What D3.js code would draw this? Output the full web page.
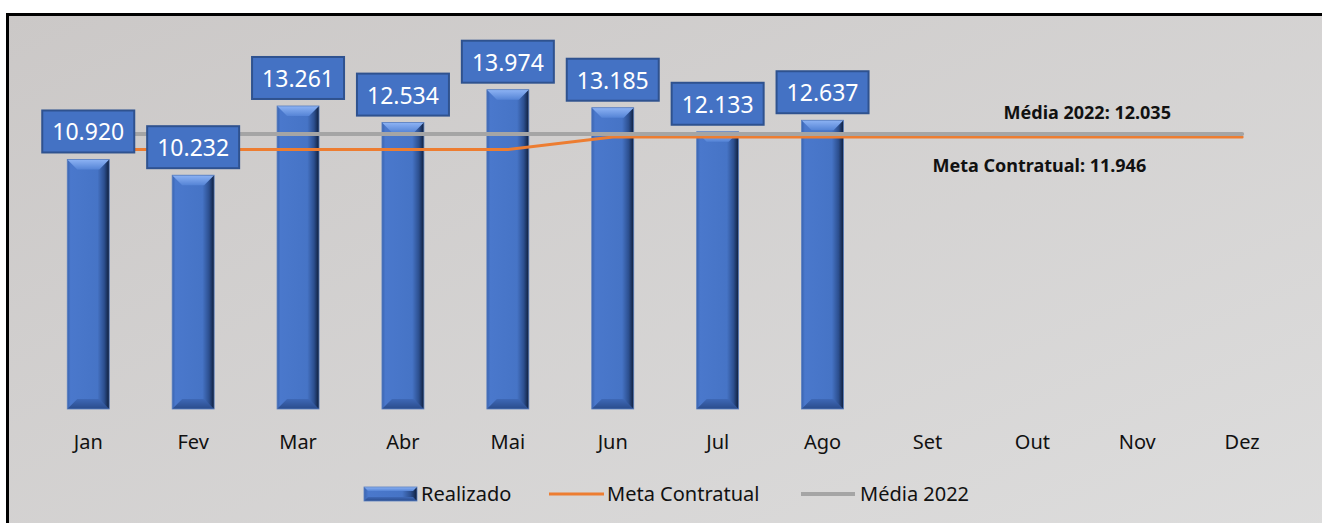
<!DOCTYPE html>
<html>
<head>
<meta charset="utf-8">
<script src="https://cdn.jsdelivr.net/npm/d3@7"></script>
<style>
  html, body { margin: 0; padding: 0; background: #fff; }
  svg { display: block; font-family: "Noto Sans", sans-serif; }
</style>
</head>
<body>
<svg id="area" width="1322" height="523"></svg>
<script>
const months = ['Jan', 'Fev', 'Mar', 'Abr', 'Mai', 'Jun', 'Jul', 'Ago', 'Set', 'Out', 'Nov', 'Dez'];
const realizado = [10920, 10232, 13261, 12534, 13974, 13185, 12133, 12637];
const metaContratual = [11360, 11360, 11360, 11360, 11360, 11900, 11900, 11900, 11900, 11900, 11900, 11900];
const media2022 = [12035, 12035, 12035, 12035, 12035, 12035, 12035, 12035, 12035, 12035, 12035, 12035];
const metaLabel = 'Meta Contratual: 11.946';
const mediaLabel = 'Média 2022: 12.035';
const legendItems = ['Realizado', 'Meta Contratual', 'Média 2022'];

const ptBR = d3.formatLocale({ decimal: ',', thousands: '.', grouping: [3], currency: ['R$', ''] });
const fmt = ptBR.format(',d');

const svg = d3.select('#area');
const defs = svg.append('defs');

// background + frame
const bg = defs.append('linearGradient').attr('id', 'bgGrad')
  .attr('x1', 0).attr('y1', 0).attr('x2', 1).attr('y2', 1);
bg.append('stop').attr('offset', 0).attr('stop-color', '#cbc8c7');
bg.append('stop').attr('offset', 1).attr('stop-color', '#dfdfdf');

svg.append('rect')
  .attr('x', 7.5).attr('y', 14.5).attr('width', 1400).attr('height', 600)
  .attr('fill', 'url(#bgGrad)')
  .attr('stroke', '#000').attr('stroke-width', 3);

// bar gradients
const sideGrad = defs.append('linearGradient').attr('id', 'barSide');
[[0, '#3a64b0'], [0.08, '#4a78cc'], [0.72, '#4674c6'], [0.88, '#2c4f8f'], [1, '#0f1e3a']]
  .forEach(([o, c]) => sideGrad.append('stop').attr('offset', o).attr('stop-color', c));
const topGrad = defs.append('linearGradient').attr('id', 'barTop')
  .attr('x1', 0).attr('y1', 0).attr('x2', 0).attr('y2', 1);
topGrad.append('stop').attr('offset', 0).attr('stop-color', '#8db3f4');
topGrad.append('stop').attr('offset', 1).attr('stop-color', '#5584d6');
const botGrad = defs.append('linearGradient').attr('id', 'barBot')
  .attr('x1', 0).attr('y1', 0).attr('x2', 0).attr('y2', 1);
botGrad.append('stop').attr('offset', 0).attr('stop-color', '#3e68b6');
botGrad.append('stop').attr('offset', 1).attr('stop-color', '#2a4c8c');

function bevelBar(g, x, y, w, h, bev) {
  g.append('rect').attr('x', x).attr('y', y).attr('width', w).attr('height', h)
    .attr('fill', 'url(#barSide)');
  g.append('polygon')
    .attr('points', [[x, y], [x + w, y], [x + w - bev, y + bev], [x + bev, y + bev]].join(' '))
    .attr('fill', 'url(#barTop)');
  g.append('polygon')
    .attr('points', [[x, y + h], [x + w, y + h], [x + w - bev, y + h - bev], [x + bev, y + h - bev]].join(' '))
    .attr('fill', 'url(#barBot)');
  g.append('rect').attr('x', x).attr('y', y).attr('width', w).attr('height', h)
    .attr('fill', 'none').attr('stroke', '#5a7fc0').attr('stroke-width', 0.8);
}

// scales
const x = d3.scaleBand().domain(months).range([35.8, 1294.6])
  .paddingInner(0.6).paddingOuter(0.3);
const y = d3.scaleLinear().domain([0, 16000]).range([409, 43.4]);
const cx = (m) => x(m) + x.bandwidth() / 2;

// bars
const bars = svg.append('g');
realizado.forEach((v, i) => {
  const g = bars.append('g');
  bevelBar(g, x(months[i]), y(v), x.bandwidth(), y(0) - y(v), 10);
});

// lines
const line = d3.line().x((d, i) => cx(months[i])).y((d) => y(d));
svg.append('path').datum(metaContratual)
  .attr('d', line).attr('fill', 'none')
  .attr('stroke', '#ed7d31').attr('stroke-width', 3).attr('stroke-linecap', 'round');
svg.append('path').datum(media2022)
  .attr('d', line).attr('fill', 'none')
  .attr('stroke', '#a5a5a5').attr('stroke-width', 4).attr('stroke-linecap', 'round');

// data labels
const boxW = 92;
const boxH = 42;
const labels = svg.append('g').selectAll('g').data(realizado).join('g')
  .attr('transform', (d, i) => `translate(${cx(months[i])},${y(d) - 7 - boxH / 2})`);
labels.append('rect')
  .attr('x', -boxW / 2).attr('y', -boxH / 2).attr('width', boxW).attr('height', boxH)
  .attr('fill', '#4472c4').attr('stroke', '#2f528f').attr('stroke-width', 2);
labels.append('text')
  .attr('text-anchor', 'middle').attr('y', 9)
  .attr('fill', '#fff').attr('font-size', 23)
  .text((d) => fmt(d));

// annotations
svg.append('text')
  .attr('x', cx('Nov') - 50).attr('y', y(media2022[11]) - 15)
  .attr('text-anchor', 'middle').attr('font-weight', 'bold').attr('font-size', 18)
  .attr('fill', '#111').text(mediaLabel);
svg.append('text')
  .attr('x', cx('Out') + 7).attr('y', y(metaContratual[11]) + 35)
  .attr('text-anchor', 'middle').attr('font-weight', 'bold').attr('font-size', 18)
  .attr('fill', '#111').text(metaLabel);

// x axis
const axis = svg.append('g').attr('transform', `translate(0,${y(0)})`)
  .call(d3.axisBottom(x).tickSize(0).tickPadding(0));
axis.select('.domain').remove();
axis.selectAll('text')
  .attr('y', 39.5).attr('dy', 0)
  .attr('font-size', 20).attr('font-family', '"Noto Sans", sans-serif')
  .attr('fill', '#111');

// legend
const legend = svg.append('g').attr('transform', 'translate(0,494)');
bevelBar(legend.append('g'), 364, -7, 53, 14, 4);
legend.append('line').attr('x1', 549).attr('x2', 604)
  .attr('stroke', '#ed7d31').attr('stroke-width', 3);
legend.append('line').attr('x1', 801).attr('x2', 855)
  .attr('stroke', '#a5a5a5').attr('stroke-width', 4);
legend.selectAll('text.leg').data(legendItems).join('text')
  .attr('class', 'leg')
  .attr('x', (d, i) => [421, 607, 860][i]).attr('y', 7)
  .attr('font-size', 20).attr('fill', '#111')
  .text((d) => d);
</script>
</body>
</html>
